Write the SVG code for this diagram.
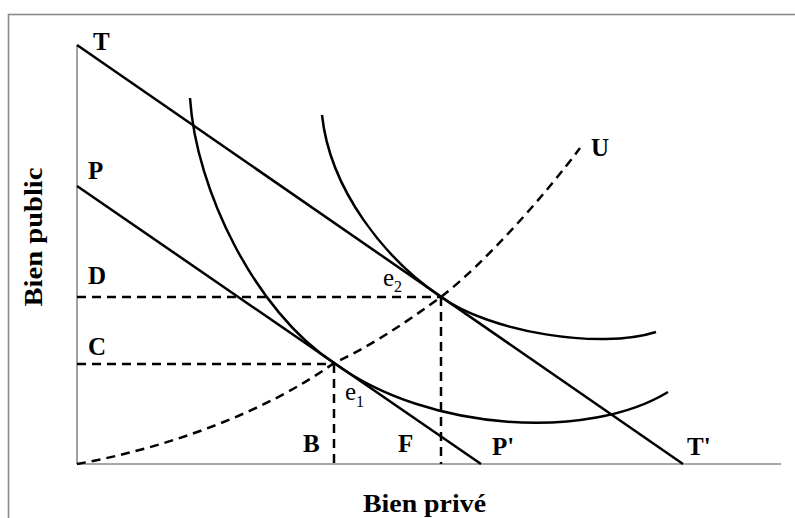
<svg xmlns="http://www.w3.org/2000/svg" width="795" height="518" viewBox="0 0 795 518">
<style>
.lbl{font-family:"Liberation Serif","Times New Roman",serif;font-weight:bold;font-size:25px;fill:#000}
.e{font-family:"Liberation Serif","Times New Roman",serif;font-size:25px;fill:#000}
.sub{font-size:16px}
.axis{stroke:#8a8a8a;stroke-width:1.6;fill:none}
.solid{stroke:#000;stroke-width:2.5;fill:none}
.dash{stroke:#000;stroke-width:2.5;fill:none;stroke-dasharray:9 6}
</style>
<rect x="0" y="0" width="795" height="518" fill="#fff"/>
<rect id="frame" x="8.5" y="14.5" width="800" height="520" fill="none" stroke="#8a8a8a" stroke-width="1.6"/>
<g id="axes">
<line class="axis" x1="77" y1="45" x2="77" y2="464"/>
<line class="axis" x1="77" y1="464" x2="781" y2="464"/>
</g>
<g id="connectors">
<line id="TT" class="solid" x1="77" y1="45" x2="683" y2="464"/>
<line id="PP" class="solid" x1="77" y1="186" x2="481" y2="464"/>
<path id="I1" class="solid" d="M190,98 C196,190 255,311 334,363 C430,433 590,440 668,392"/>
<path id="I2" class="solid" d="M322,115 C330,190 385,259 441,297 C490,332 600,350 656,332"/>
<path id="U" class="dash" d="M77,464 C167,448 266,412 334,363 C371,346 405,323 441,297 C485,263 545,195 580,148"/>
<line class="dash" x1="77" y1="297" x2="441" y2="297"/>
<line class="dash" x1="441" y1="297" x2="441" y2="464"/>
<line class="dash" x1="77" y1="364" x2="334" y2="364"/>
<line class="dash" x1="334" y1="364" x2="334" y2="464"/>
</g>
<g id="labels">
<text class="lbl" x="93" y="50">T</text>
<text class="lbl" x="88" y="179">P</text>
<text class="lbl" x="591" y="156">U</text>
<text class="lbl" x="88" y="284">D</text>
<text class="lbl" x="88" y="355">C</text>
<text class="e" x="383" y="286">e<tspan class="sub" dy="6">2</tspan></text>
<text class="e" x="345" y="400">e<tspan class="sub" dy="7">1</tspan></text>
<text class="lbl" x="303" y="452">B</text>
<text class="lbl" x="398" y="452">F</text>
<text class="lbl" x="492" y="455">P'</text>
<text class="lbl" x="687" y="455">T'</text>
<text class="lbl" x="424.5" y="512" text-anchor="middle" textLength="123" lengthAdjust="spacingAndGlyphs">Bien privé</text>
<text class="lbl" transform="translate(42,237) rotate(-90)" text-anchor="middle" textLength="139" lengthAdjust="spacingAndGlyphs">Bien public</text>
</g>
</svg>
